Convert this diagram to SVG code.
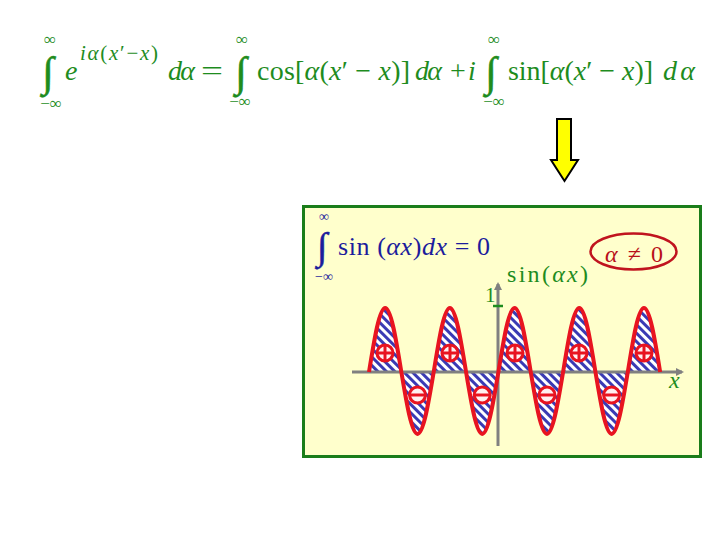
<svg xmlns="http://www.w3.org/2000/svg" width="720" height="540" viewBox="0 0 720 540">
<defs>
<style>
.g{fill:#1e8c1e;font-family:"Liberation Serif","Times New Roman",serif}
.b{fill:#1c1c9c;font-family:"Liberation Serif","Times New Roman",serif}
.r{fill:#b8101a;font-family:"Liberation Serif","Times New Roman",serif}
.it{font-style:italic}
.sm{font-size:17px}
.int{font-size:42px;stroke:#1e8c1e;stroke-width:0.6}
.axis{stroke:#808080;stroke-width:3;fill:none}
.pm{fill:#fff0f0;stroke:#e81420;stroke-width:3}
.pl{stroke:#e81420;stroke-width:3}
</style>
<pattern id="hatch" patternUnits="userSpaceOnUse" width="6" height="6" patternTransform="rotate(45)">
<rect width="6" height="6" fill="#ffffff"/>
<rect width="6" height="3" fill="#3a3ab4"/>
</pattern>
<marker id="ah" markerWidth="8" markerHeight="8" refX="6" refY="4" orient="auto" markerUnits="userSpaceOnUse">
<path d="M0,0 L8,4 L0,8 Z" fill="#808080"/>
</marker>
</defs>
<rect width="720" height="540" fill="#ffffff"/>

<g id="formula-top" font-size="28">
<text class="g int" x="48" y="86" text-anchor="middle">∫</text>
<text class="g sm" x="50" y="45" text-anchor="middle">∞</text>
<text class="g sm" x="51" y="109" text-anchor="middle">−∞</text>
<text class="g it" x="65" y="80">e</text>
<text class="g" x="80" y="60" font-size="21" textLength="78" lengthAdjust="spacing"><tspan class="it">iα</tspan>(<tspan class="it">x</tspan>′−<tspan class="it">x</tspan>)</text>
<text class="g it" x="168" y="80" textLength="27" lengthAdjust="spacing">dα</text>
<text class="g" x="201" y="80" textLength="22" lengthAdjust="spacingAndGlyphs">=</text>
<text class="g int" x="241" y="86" text-anchor="middle">∫</text>
<text class="g sm" x="242" y="45" text-anchor="middle">∞</text>
<text class="g sm" x="240" y="107" text-anchor="middle">−∞</text>
<text class="g" x="257" y="80" textLength="153" lengthAdjust="spacing">cos[<tspan class="it">α</tspan>(<tspan class="it">x</tspan>′ − <tspan class="it">x</tspan>)]</text>
<text class="g it" x="415" y="80" textLength="27" lengthAdjust="spacing">dα</text>
<text class="g" x="450" y="80">+</text>
<text class="g it" x="468" y="80">i</text>
<text class="g int" x="491" y="86" text-anchor="middle">∫</text>
<text class="g sm" x="494" y="45" text-anchor="middle">∞</text>
<text class="g sm" x="494" y="107" text-anchor="middle">−∞</text>
<text class="g" x="508" y="80" textLength="145" lengthAdjust="spacing">sin[<tspan class="it">α</tspan>(<tspan class="it">x</tspan>′ − <tspan class="it">x</tspan>)]</text>
<text class="g it" x="663" y="80" textLength="32" lengthAdjust="spacing">dα</text>
</g>

<g id="connectors">
<path d="M557,119 H571 V160 H578 L564.5,181 L551,160 H557 Z" fill="#ffff00" stroke="#000000" stroke-width="2" stroke-linejoin="miter"/>
</g>

<g id="box">
<rect x="303.5" y="206.5" width="397" height="250" fill="#ffffcc" stroke="#1a7d1a" stroke-width="3"/>
</g>

<g id="plot">
<path id="wave-fill" fill="url(#hatch)" d="M369,372 C374.28,339.2 379.32,308 385.18,308 C391.03,308 396.07,339.2 401.35,372 C406.63,403.76 411.67,434 417.53,434 C423.38,434 428.43,403.76 433.7,372 C438.98,339.2 444.02,308 449.88,308 C455.73,308 460.78,339.2 466.05,372 C471.33,403.76 476.37,434 482.23,434 C488.08,434 493.13,403.76 498.4,372 C503.68,339.2 508.72,308 514.58,308 C520.43,308 525.48,339.2 530.75,372 C536.03,403.76 541.07,434 546.93,434 C552.78,434 557.83,403.76 563.1,372 C568.38,339.2 573.42,308 579.28,308 C585.13,308 590.18,339.2 595.45,372 C600.73,403.76 605.77,434 611.63,434 C617.48,434 622.53,403.76 627.8,372 C633.08,339.2 638.12,308 643.98,308 C649.83,308 654.88,339.2 660.15,372 Z"/>
<line class="axis" x1="352" y1="372" x2="682" y2="372" marker-end="url(#ah)"/>
<line class="axis" x1="498" y1="446" x2="498" y2="284" marker-end="url(#ah)"/>
<line x1="493" y1="306" x2="503" y2="306" stroke="#1e8c1e" stroke-width="2.5"/>
<path id="wave" fill="none" stroke="#e81420" stroke-width="4" stroke-linejoin="round" d="M369,372 C374.28,339.2 379.32,308 385.18,308 C391.03,308 396.07,339.2 401.35,372 C406.63,403.76 411.67,434 417.53,434 C423.38,434 428.43,403.76 433.7,372 C438.98,339.2 444.02,308 449.88,308 C455.73,308 460.78,339.2 466.05,372 C471.33,403.76 476.37,434 482.23,434 C488.08,434 493.13,403.76 498.4,372 C503.68,339.2 508.72,308 514.58,308 C520.43,308 525.48,339.2 530.75,372 C536.03,403.76 541.07,434 546.93,434 C552.78,434 557.83,403.76 563.1,372 C568.38,339.2 573.42,308 579.28,308 C585.13,308 590.18,339.2 595.45,372 C600.73,403.76 605.77,434 611.63,434 C617.48,434 622.53,403.76 627.8,372 C633.08,339.2 638.12,308 643.98,308 C649.83,308 654.88,339.2 660.15,372"/>
</g>

<g id="plus-signs">
<g><circle class="pm" cx="385" cy="353" r="8"/><path class="pl" d="M377,353 H393 M385,345 V361"/></g>
<g><circle class="pm" cx="450" cy="353" r="8"/><path class="pl" d="M442,353 H458 M450,345 V361"/></g>
<g><circle class="pm" cx="515" cy="353" r="8"/><path class="pl" d="M507,353 H523 M515,345 V361"/></g>
<g><circle class="pm" cx="579" cy="353" r="8"/><path class="pl" d="M571,353 H587 M579,345 V361"/></g>
<g><circle class="pm" cx="644" cy="353" r="8"/><path class="pl" d="M636,353 H652 M644,345 V361"/></g>
</g>
<g id="minus-signs">
<g><circle class="pm" cx="417.5" cy="395" r="8"/><path class="pl" d="M409.5,395 H425.5"/></g>
<g><circle class="pm" cx="482.2" cy="395" r="8"/><path class="pl" d="M474.2,395 H490.2"/></g>
<g><circle class="pm" cx="547" cy="395" r="8"/><path class="pl" d="M539,395 H555"/></g>
<g><circle class="pm" cx="611.6" cy="395" r="8"/><path class="pl" d="M603.6,395 H619.6"/></g>
</g>

<g id="box-formula">
<text class="b" x="322" y="259" font-size="38" stroke="#1c1c9c" stroke-width="0.5" text-anchor="middle">∫</text>
<text class="b" x="324" y="221" font-size="14" text-anchor="middle">∞</text>
<text class="b" x="324" y="281" font-size="14" text-anchor="middle">−∞</text>
<text class="b" x="338" y="255" font-size="26" textLength="152" lengthAdjust="spacing">sin (<tspan class="it">αx</tspan>)<tspan class="it">dx</tspan> = 0</text>
</g>

<g id="labels">
<text class="g" x="485" y="302" font-size="21">1</text>
<text class="g" x="507" y="282" font-size="24" textLength="81" lengthAdjust="spacing">sin(<tspan class="it">αx</tspan>)</text>
<text class="g it" x="669" y="388" font-size="24">x</text>
</g>

<g id="alpha-condition">
<ellipse cx="633.5" cy="251.5" rx="43" ry="18" fill="none" stroke="#c0141e" stroke-width="2.5"/>
<text class="r" x="605" y="262" font-size="24" textLength="58" lengthAdjust="spacing"><tspan class="it">α</tspan> ≠ 0</text>
</g>
</svg>
